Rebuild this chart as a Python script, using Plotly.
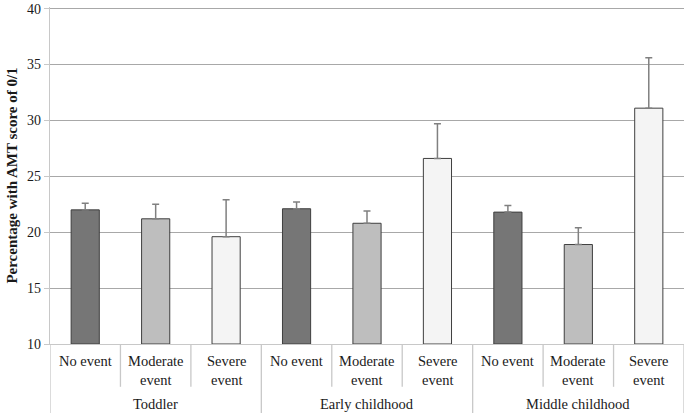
import plotly.graph_objects as go

groups = ["Toddler", "Early childhood", "Middle childhood"]
events = ["No event", "Moderate<br>event", "Severe<br>event"]
values = [22.0, 21.2, 19.6, 22.1, 20.8, 26.6, 21.8, 18.9, 31.1]
err_plus = [0.6, 1.3, 3.3, 0.6, 1.1, 3.1, 0.6, 1.5, 4.5]
event_colors = ["#767676", "#bebebe", "#f4f4f4"]
y_min, y_max, y_step = 10, 40, 5

n = len(groups) * len(events)
xs = list(range(n))
colors = [event_colors[i % len(events)] for i in xs]

fig = go.Figure()
fig.add_trace(go.Bar(
    x=xs, y=[v - y_min for v in values], base=y_min,
    width=0.4,
    marker=dict(color=colors, line=dict(color="#3f3f3f", width=1)),
    error_y=dict(type="data", symmetric=False, array=err_plus,
                 arrayminus=[0] * n, color="#808080", thickness=1.5, width=3.5),
    showlegend=False, hoverinfo="skip",
))

font = "Times New Roman, Liberation Serif, serif"
ann = []
shapes = []
for i in xs:
    ann.append(dict(x=i, y=-0.022, xref="x", yref="paper", text=events[i % 3],
                    showarrow=False, yanchor="top", xanchor="center",
                    font=dict(family=font, size=14.5, color="#1a1a1a")))
for g, name in enumerate(groups):
    ann.append(dict(x=g * 3 + 1, y=-0.177, xref="x", yref="paper", text=name,
                    showarrow=False, yanchor="middle", xanchor="center",
                    font=dict(family=font, size=14.5, color="#1a1a1a")))
for i in range(n + 1):
    xb = i - 0.5
    y1 = -0.205 if i % 3 == 0 else -0.127
    shapes.append(dict(type="line", xref="x", yref="paper", x0=xb, x1=xb,
                       y0=0, y1=y1, line=dict(color="#c8c8c8", width=1.3)))

fig.update_layout(
    width=686, height=415,
    margin=dict(l=50, r=2, t=5, b=71),
    plot_bgcolor="white", paper_bgcolor="white",
    xaxis=dict(range=[-0.5, n - 0.5], showticklabels=False, showgrid=False,
               zeroline=False, showline=True, linecolor="#c8c8c8", linewidth=1.3,
               fixedrange=True),
    yaxis=dict(range=[y_min, y_max + 0.15], tickmode="linear", tick0=y_min,
               dtick=y_step, ticklabeloverflow="allow",
               showgrid=True,
               gridcolor="#a8a8a8", gridwidth=1.2, zeroline=False,
               showline=True, linecolor="#c8c8c8", linewidth=1.3,
               ticks="outside", ticklen=5, tickcolor="#c8c8c8", tickwidth=1.3,
               tickfont=dict(family=font, size=14, color="#1a1a1a"),
               title=dict(text="<b>Percentage with AMT score of 0/1</b>",
                          font=dict(family=font, size=15, color="#1a1a1a"),
                          standoff=5)),
    annotations=ann, shapes=shapes,
)
fig.write_html("out.html", config={"displayModeBar": False},
               post_script="document.body.style.margin='0';")
